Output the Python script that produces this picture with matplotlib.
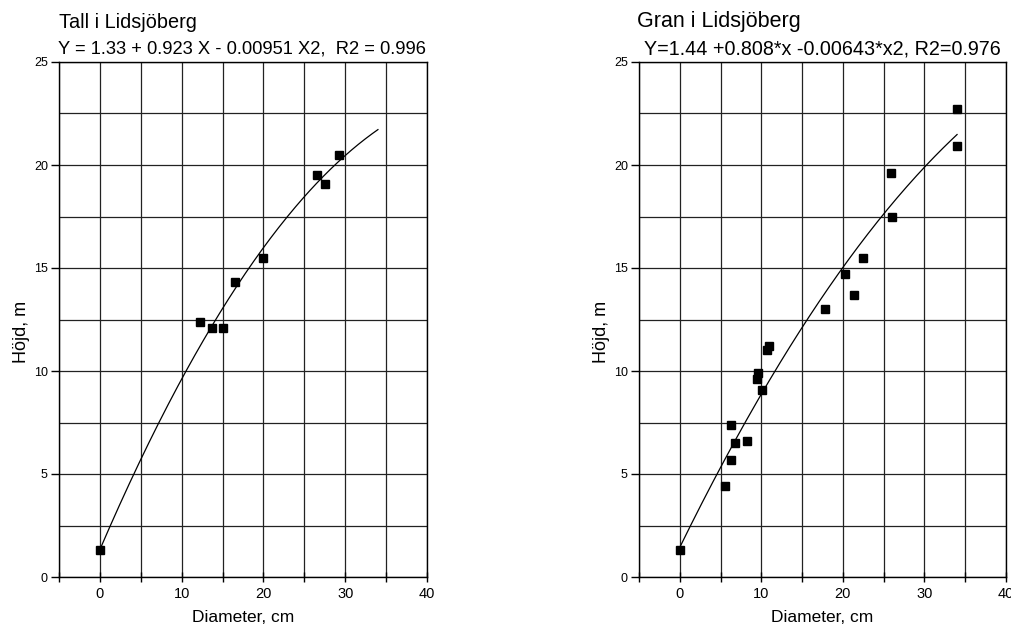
import numpy as np
import matplotlib
matplotlib.use("Agg")
import matplotlib.pyplot as plt
from matplotlib.ticker import MultipleLocator

plt.rcParams['font.family'] = ['Liberation Sans', 'DejaVu Sans']

# Data: Tall (pine)
tall_d = [0.0, 12.3, 13.7, 15.0, 16.5, 20.0, 26.6, 27.5, 29.3]
tall_h = [1.3, 12.4, 12.1, 12.1, 14.3, 15.5, 19.5, 19.1, 20.5]
tall_coef = [1.33, 0.923, -0.00951]
tall_title = "Tall i Lidsjöberg"
tall_eq = "Y = 1.33 + 0.923 X - 0.00951 X2,  R2 = 0.996"

# Data: Gran (spruce)
gran_d = [0.0, 5.6, 6.3, 6.8, 6.3, 8.3, 10.1, 9.5, 9.65, 10.7, 10.95,
          17.8, 20.25, 21.35, 22.45, 25.9, 26.05, 33.95, 33.95]
gran_h = [1.3, 4.4, 5.7, 6.5, 7.4, 6.6, 9.1, 9.6, 9.9, 11.0, 11.2,
          13.0, 14.7, 13.7, 15.5, 19.6, 17.5, 22.7, 20.9]
gran_coef = [1.44, 0.808, -0.00643]
gran_title = "Gran i Lidsjöberg"
gran_eq = "Y=1.44 +0.808*x -0.00643*x2, R2=0.976"

fit_range = [0.0, 34.0]

fig = plt.figure(figsize=(10.12, 6.26), dpi=100)

def panel(rect, d, h, coef, title, eq, title_x, eq_x, title_size, eq_size, ylab_x):
    ax = fig.add_axes(rect)
    ax.set_xlim(-5, 40)
    ax.set_ylim(0, 25)
    ax.xaxis.set_major_locator(MultipleLocator(10))
    ax.xaxis.set_minor_locator(MultipleLocator(5))
    ax.yaxis.set_major_locator(MultipleLocator(5))
    ax.yaxis.set_minor_locator(MultipleLocator(2.5))
    ax.grid(True, which='both', color='#222222', lw=0.9)
    ax.set_axisbelow(True)
    for s in ax.spines.values():
        s.set_linewidth(1.0)
    ax.tick_params(axis='x', which='both', direction='inout', length=7, width=1,
                   labelsize=10.5, pad=4)
    ax.tick_params(axis='y', which='major', direction='out', length=6, width=1,
                   labelsize=9, pad=2)
    ax.tick_params(axis='y', which='minor', length=0)
    xs = np.linspace(fit_range[0], fit_range[1], 200)
    ys = coef[0] + coef[1] * xs + coef[2] * xs ** 2
    ax.plot(xs, ys, color='black', lw=0.9)
    ax.plot(d, h, 's', color='black', markersize=6, clip_on=False)
    ax.set_xlabel("Diameter, cm", fontsize=12.5, labelpad=6)
    ax.set_ylabel("Höjd, m", fontsize=13)
    lab_y = (626 - 332) / 626
    ax.yaxis.set_label_coords(ylab_x, lab_y, transform=fig.transFigure)
    ax.yaxis.label.set_va('center')
    fig.text(title_x, 1 - 22 / 626, title, fontsize=title_size, ha='left', va='center')
    fig.text(eq_x, 1 - 49 / 626, eq, fontsize=eq_size, ha='left', va='center')
    return ax

ax1 = panel([59 / 1012, 49 / 626, 368 / 1012, 515 / 626], tall_d, tall_h, tall_coef,
            tall_title, tall_eq, 59 / 1012, 58 / 1012, 14.3, 13.2, 21 / 1012)
ax2 = panel([639 / 1012, 49 / 626, 367 / 1012, 515 / 626], gran_d, gran_h, gran_coef,
            gran_title, gran_eq, 637 / 1012, 644 / 1012, 15.5, 14.2, 601 / 1012)

fig.savefig("out.png", dpi=100)
